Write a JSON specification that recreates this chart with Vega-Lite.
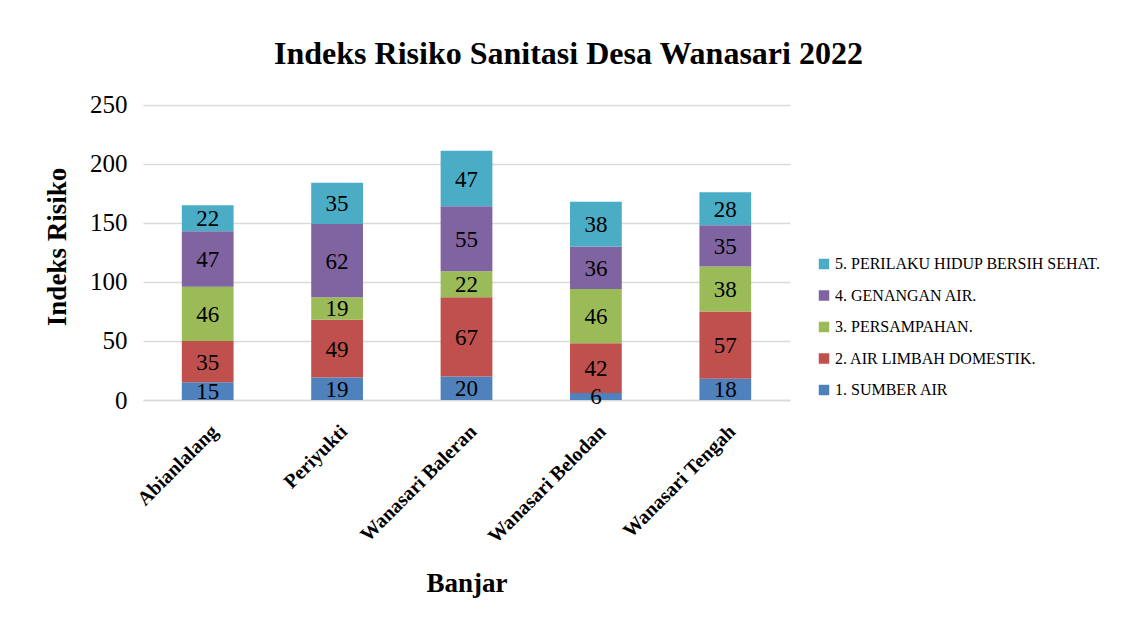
{
  "$schema": "https://vega.github.io/schema/vega-lite/v6.json",
  "width": 647,
  "height": 307,
  "autosize": {"type": "none"},
  "padding": {"left": 143, "top": 93, "right": 331, "bottom": 226},
  "background": "white",
  "config": {
    "font": "Liberation Serif",
    "view": {"stroke": null}
  },
  "title": {
    "text": "Indeks Risiko Sanitasi Desa Wanasari 2022",
    "font": "Liberation Serif",
    "fontSize": 32,
    "fontWeight": "bold",
    "color": "black",
    "anchor": "middle",
    "dx": 102,
    "offset": 22
  },
  "data": {
    "values": [
      {"banjar": "Abianlalang", "kategori": "1. SUMBER AIR", "k": 1, "nilai": 15},
      {"banjar": "Abianlalang", "kategori": "2. AIR LIMBAH DOMESTIK.", "k": 2, "nilai": 35},
      {"banjar": "Abianlalang", "kategori": "3. PERSAMPAHAN.", "k": 3, "nilai": 46},
      {"banjar": "Abianlalang", "kategori": "4. GENANGAN AIR.", "k": 4, "nilai": 47},
      {"banjar": "Abianlalang", "kategori": "5. PERILAKU HIDUP BERSIH SEHAT.", "k": 5, "nilai": 22},
      {"banjar": "Periyukti", "kategori": "1. SUMBER AIR", "k": 1, "nilai": 19},
      {"banjar": "Periyukti", "kategori": "2. AIR LIMBAH DOMESTIK.", "k": 2, "nilai": 49},
      {"banjar": "Periyukti", "kategori": "3. PERSAMPAHAN.", "k": 3, "nilai": 19},
      {"banjar": "Periyukti", "kategori": "4. GENANGAN AIR.", "k": 4, "nilai": 62},
      {"banjar": "Periyukti", "kategori": "5. PERILAKU HIDUP BERSIH SEHAT.", "k": 5, "nilai": 35},
      {"banjar": "Wanasari Baleran", "kategori": "1. SUMBER AIR", "k": 1, "nilai": 20},
      {"banjar": "Wanasari Baleran", "kategori": "2. AIR LIMBAH DOMESTIK.", "k": 2, "nilai": 67},
      {"banjar": "Wanasari Baleran", "kategori": "3. PERSAMPAHAN.", "k": 3, "nilai": 22},
      {"banjar": "Wanasari Baleran", "kategori": "4. GENANGAN AIR.", "k": 4, "nilai": 55},
      {"banjar": "Wanasari Baleran", "kategori": "5. PERILAKU HIDUP BERSIH SEHAT.", "k": 5, "nilai": 47},
      {"banjar": "Wanasari Belodan", "kategori": "1. SUMBER AIR", "k": 1, "nilai": 6},
      {"banjar": "Wanasari Belodan", "kategori": "2. AIR LIMBAH DOMESTIK.", "k": 2, "nilai": 42},
      {"banjar": "Wanasari Belodan", "kategori": "3. PERSAMPAHAN.", "k": 3, "nilai": 46},
      {"banjar": "Wanasari Belodan", "kategori": "4. GENANGAN AIR.", "k": 4, "nilai": 36},
      {"banjar": "Wanasari Belodan", "kategori": "5. PERILAKU HIDUP BERSIH SEHAT.", "k": 5, "nilai": 38},
      {"banjar": "Wanasari Tengah", "kategori": "1. SUMBER AIR", "k": 1, "nilai": 18},
      {"banjar": "Wanasari Tengah", "kategori": "2. AIR LIMBAH DOMESTIK.", "k": 2, "nilai": 57},
      {"banjar": "Wanasari Tengah", "kategori": "3. PERSAMPAHAN.", "k": 3, "nilai": 38},
      {"banjar": "Wanasari Tengah", "kategori": "4. GENANGAN AIR.", "k": 4, "nilai": 35},
      {"banjar": "Wanasari Tengah", "kategori": "5. PERILAKU HIDUP BERSIH SEHAT.", "k": 5, "nilai": 28}
    ]
  },
  "transform": [
    {"stack": "nilai", "groupby": ["banjar"], "sort": [{"field": "k", "order": "ascending"}], "as": ["y0", "y1"]},
    {"calculate": "(datum.y0 + datum.y1) / 2", "as": "ymid"}
  ],
  "encoding": {
    "x": {
      "field": "banjar",
      "type": "nominal",
      "sort": null,
      "scale": {"paddingInner": 0.6, "paddingOuter": 0.3},
      "axis": {
        "title": "Banjar",
        "titleFont": "Liberation Serif",
        "titleFontSize": 27,
        "titleFontWeight": "bold",
        "titleColor": "black",
        "titlePadding": 24,
        "labelFont": "Liberation Serif",
        "labelFontSize": 20,
        "labelFontWeight": "bold",
        "labelColor": "black",
        "labelAngle": -45,
        "labelAlign": "right",
        "labelBaseline": "top",
        "labelPadding": 21,
        "labelDx": 1,
        "ticks": false,
        "domainColor": "#d9d9d9",
        "domainWidth": 1.5
      }
    }
  },
  "layer": [
    {
      "mark": {"type": "bar"},
      "encoding": {
        "y": {
          "field": "y0",
          "type": "quantitative",
          "scale": {"domain": [0, 250]},
          "axis": {
            "title": "Indeks Risiko",
            "titleFont": "Liberation Serif",
            "titleFontSize": 27,
            "titleFontWeight": "bold",
            "titleColor": "black",
            "titlePadding": 18,
            "values": [0, 50, 100, 150, 200, 250],
            "labelFont": "Liberation Serif",
            "labelFontSize": 25,
            "labelColor": "black",
            "labelPadding": 16,
            "ticks": false,
            "domain": false,
            "grid": true,
            "gridColor": "#d9d9d9",
            "gridWidth": 1.5
          }
        },
        "y2": {"field": "y1"},
        "color": {
          "field": "kategori",
          "type": "nominal",
          "sort": "descending",
          "scale": {
            "domain": [
              "5. PERILAKU HIDUP BERSIH SEHAT.",
              "4. GENANGAN AIR.",
              "3. PERSAMPAHAN.",
              "2. AIR LIMBAH DOMESTIK.",
              "1. SUMBER AIR"
            ],
            "range": ["#4BACC6", "#8064A2", "#9BBB59", "#C0504D", "#4F81BD"]
          },
          "legend": {
            "title": null,
            "orient": "none",
            "legendX": 673,
            "legendY": 163,
            "symbolType": "square",
            "symbolSize": 110,
            "symbolStrokeWidth": 0,
            "labelFont": "Liberation Serif",
            "labelFontSize": 16,
            "labelColor": "black",
            "labelLimit": 0,
            "labelOffset": 3,
            "rowPadding": 15.5
          }
        }
      }
    },
    {
      "mark": {"type": "text", "font": "Liberation Serif", "fontSize": 23, "color": "black", "baseline": "middle", "dy": 1},
      "encoding": {
        "y": {"field": "ymid", "type": "quantitative"},
        "text": {"field": "nilai", "type": "quantitative"}
      }
    }
  ]
}
